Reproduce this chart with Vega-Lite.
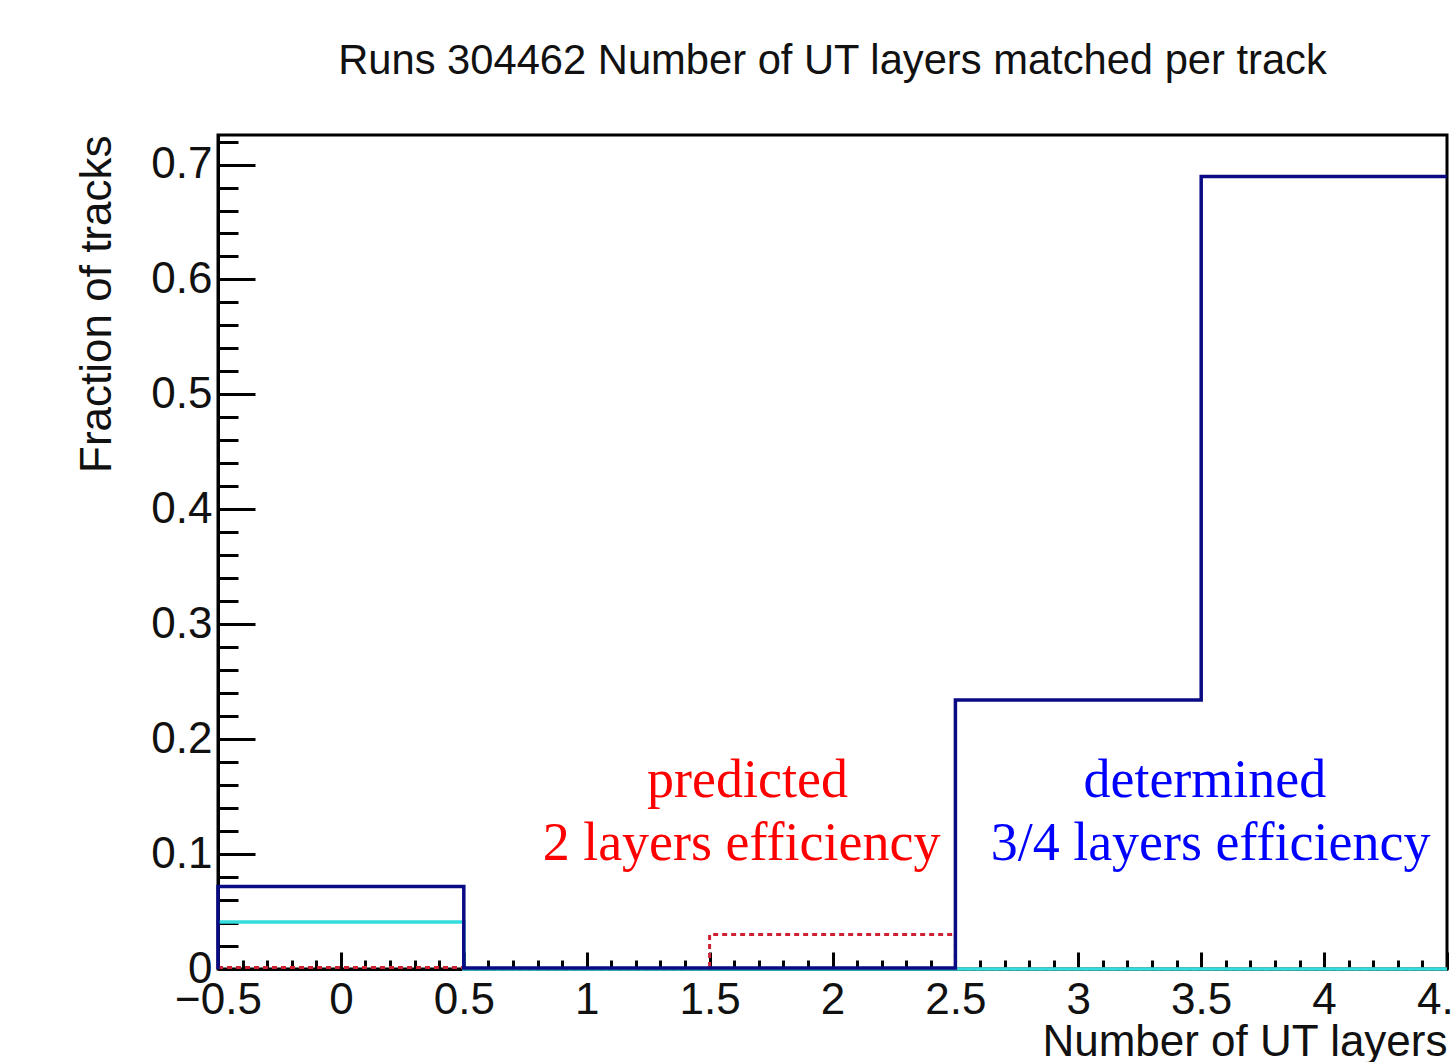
{
  "$schema": "https://vega.github.io/schema/vega-lite/v6.json",
  "width": 1229,
  "height": 834,
  "autosize": "none",
  "padding": {"left": 218, "top": 135, "right": 7, "bottom": 93},
  "background": "white",
  "title": {
    "text": "Runs 304462 Number of UT layers matched per track",
    "font": "Liberation Sans",
    "fontSize": 41.7,
    "fontWeight": "normal",
    "color": "#111111",
    "anchor": "middle",
    "baseline": "alphabetic",
    "offset": 19
  },
  "config": {
    "view": {"stroke": "black", "strokeWidth": 3},
    "axis": {
      "grid": false,
      "labelFont": "Liberation Sans",
      "labelFontSize": 44,
      "labelColor": "#111111",
      "titleFont": "Liberation Sans",
      "titleFontSize": 44,
      "titleFontWeight": "normal",
      "titleColor": "#111111",
      "tickColor": "black",
      "domainColor": "black",
      "labelOverlap": false,
      "labelFlush": false,
      "labelBound": false
    }
  },
  "datasets": {
    "hist": [
      {"series": "navy", "edge": -0.5, "frac": 0, "i": 0},
      {"series": "navy", "edge": -0.5, "frac": 0.0717, "i": 1},
      {"series": "navy", "edge": 0.5, "frac": 0.0008, "i": 2},
      {"series": "navy", "edge": 1.5, "frac": 0.0008, "i": 3},
      {"series": "navy", "edge": 2.5, "frac": 0.234, "i": 4},
      {"series": "navy", "edge": 3.5, "frac": 0.6895, "i": 5},
      {"series": "navy", "edge": 4.5, "frac": 0.6895, "i": 6},
      {"series": "cyan", "edge": -0.5, "frac": 0.041, "i": 0},
      {"series": "cyan", "edge": 0.5, "frac": 0, "i": 1},
      {"series": "cyan", "edge": 1.5, "frac": 0, "i": 2},
      {"series": "cyan", "edge": 2.5, "frac": 0, "i": 3},
      {"series": "cyan", "edge": 3.5, "frac": 0, "i": 4},
      {"series": "cyan", "edge": 4.5, "frac": 0, "i": 5},
      {"series": "red", "edge": -0.5, "frac": 0.0012, "i": 0},
      {"series": "red", "edge": 0.5, "frac": 0, "i": 1},
      {"series": "red", "edge": 1.5, "frac": 0.030, "i": 2},
      {"series": "red", "edge": 2.5, "frac": 0, "i": 3},
      {"series": "red", "edge": 3.5, "frac": 0, "i": 4},
      {"series": "red", "edge": 4.5, "frac": 0, "i": 5}
    ],
    "notes": [
      {"label": "predicted", "x": 1.654, "y": 0.1497, "group": "red"},
      {"label": "2 layers efficiency", "x": 1.630, "y": 0.0949, "group": "red"},
      {"label": "determined", "x": 3.515, "y": 0.1497, "group": "blue"},
      {"label": "3/4 layers efficiency", "x": 3.538, "y": 0.0949, "group": "blue"}
    ]
  },
  "resolve": {"axis": {"x": "independent", "y": "independent"}},
  "layer": [
    {
      "data": {"name": "hist"},
      "transform": [{"filter": "datum.series === 'red'"}],
      "mark": {"type": "line", "interpolate": "step-after", "color": "#cc2233", "strokeWidth": 3, "strokeDash": [5, 4]},
      "encoding": {
        "x": {
          "field": "edge", "type": "quantitative",
          "scale": {"domain": [-0.5, 4.5], "nice": false, "zero": false},
          "axis": {
            "orient": "bottom", "title": null, "labels": false, "domain": false,
            "values": [-0.5,-0.4,-0.3,-0.2,-0.1,0,0.1,0.2,0.3,0.4,0.5,0.6,0.7,0.8,0.9,1,1.1,1.2,1.3,1.4,1.5,1.6,1.7,1.8,1.9,2,2.1,2.2,2.3,2.4,2.5,2.6,2.7,2.8,2.9,3,3.1,3.2,3.3,3.4,3.5,3.6,3.7,3.8,3.9,4,4.1,4.2,4.3,4.4,4.5],
            "tickSize": -9, "tickWidth": 3
          }
        },
        "y": {
          "field": "frac", "type": "quantitative",
          "scale": {"domain": [0, 0.7257], "nice": false, "zero": true},
          "axis": {
            "orient": "left", "title": null, "labels": false, "domain": false,
            "values": [0,0.02,0.04,0.06,0.08,0.1,0.12,0.14,0.16,0.18,0.2,0.22,0.24,0.26,0.28,0.3,0.32,0.34,0.36,0.38,0.4,0.42,0.44,0.46,0.48,0.5,0.52,0.54,0.56,0.58,0.6,0.62,0.64,0.66,0.68,0.7,0.72],
            "tickSize": -20, "tickWidth": 3
          }
        },
        "order": {"field": "i", "type": "quantitative"}
      }
    },
    {
      "data": {"name": "hist"},
      "transform": [{"filter": "datum.series === 'cyan'"}],
      "mark": {"type": "line", "interpolate": "step-after", "color": "#33dddd", "strokeWidth": 3.5},
      "encoding": {
        "x": {"field": "edge", "type": "quantitative", "axis": null},
        "y": {"field": "frac", "type": "quantitative", "axis": null},
        "order": {"field": "i", "type": "quantitative"}
      }
    },
    {
      "data": {"name": "hist"},
      "transform": [{"filter": "datum.series === 'navy'"}],
      "mark": {"type": "line", "interpolate": "step-after", "color": "#0a0a85", "strokeWidth": 3.5},
      "encoding": {
        "x": {
          "field": "edge", "type": "quantitative",
          "axis": {
            "orient": "bottom",
            "title": "Number of UT layers",
            "values": [-0.5, 0, 0.5, 1, 1.5, 2, 2.5, 3, 3.5, 4, 4.5],
            "format": "~g",
            "domain": true, "domainWidth": 3,
            "tickSize": -17, "tickWidth": 3,
            "labelPadding": 61,
            "labelBaseline": "alphabetic",
            "titleAnchor": "end",
            "titleAlign": "right",
            "titleX": 1229,
            "titleY": 86,
            "titleBaseline": "alphabetic"
          }
        },
        "y": {
          "field": "frac", "type": "quantitative",
          "axis": {
            "orient": "left",
            "title": "Fraction of tracks",
            "values": [0, 0.1, 0.2, 0.3, 0.4, 0.5, 0.6, 0.7],
            "format": "~g",
            "domain": true, "domainWidth": 3,
            "tickSize": -37, "tickWidth": 3,
            "labelPadding": 43,
            "titleAngle": -90,
            "titleAlign": "right",
            "titleBaseline": "middle",
            "titleX": -121,
            "titleY": 0
          }
        },
        "order": {"field": "i", "type": "quantitative"}
      }
    },
    {
      "data": {"name": "notes"},
      "mark": {"type": "text", "font": "Liberation Serif", "fontSize": 54, "align": "center", "baseline": "alphabetic"},
      "encoding": {
        "x": {"field": "x", "type": "quantitative", "axis": null},
        "y": {"field": "y", "type": "quantitative", "axis": null},
        "text": {"field": "label"},
        "color": {"field": "group", "type": "nominal", "scale": {"domain": ["red", "blue"], "range": ["#ff0000", "#0000ff"]}, "legend": null}
      }
    }
  ]
}
